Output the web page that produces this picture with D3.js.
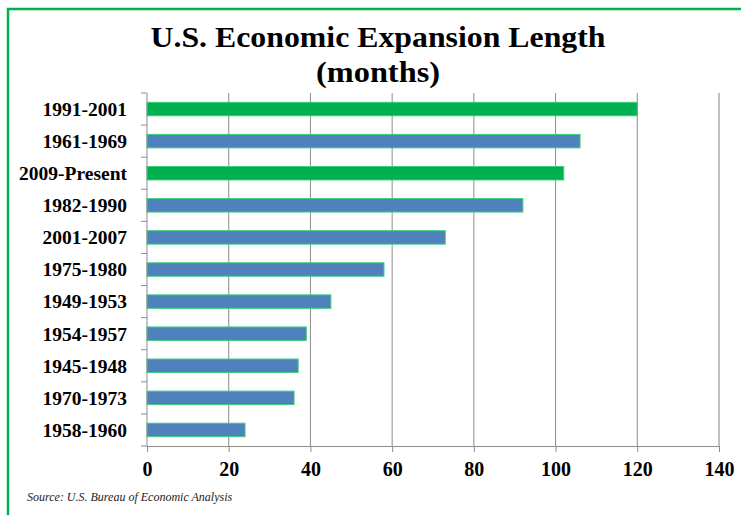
<!DOCTYPE html>
<html>
<head>
<meta charset="utf-8">
<script src="https://cdn.jsdelivr.net/npm/d3@7"></script>
<style>
  body { margin: 0; background: #fff; }
  text { font-family: "Liberation Serif", "DejaVu Serif", serif; }
</style>
</head>
<body>
<svg id="chart" width="741" height="515"></svg>
<script>
// Data (months)
var periods = ["1991-2001", "1961-1969", "2009-Present", "1982-1990", "2001-2007",
               "1975-1980", "1949-1953", "1954-1957", "1945-1948", "1970-1973", "1958-1960"];
var months = [120, 106, 102, 92, 73, 58, 45, 39, 37, 36, 24];
var highlighted = ["1991-2001", "2009-Present"];
var xTicks = [0, 20, 40, 60, 80, 100, 120, 140];

var data = periods.map((p, i) => ({ period: p, months: months[i] }));

const svg = d3.select("#chart");
const margin = { left: 147, right: 22, top: 93, bottom: 69 };
const width = 741 - margin.left - margin.right;
const height = 515 - margin.top - margin.bottom;

// Green frame
svg.append("path")
    .attr("d", "M8,515 L8,9 L741,9")
    .attr("fill", "none")
    .attr("stroke", "#00b050")
    .attr("stroke-width", 2.5);

// Title (stretched a little to match the wider original face)
svg.append("text")
    .attr("x", 378).attr("y", 47)
    .attr("text-anchor", "middle")
    .attr("textLength", 455).attr("lengthAdjust", "spacingAndGlyphs")
    .style("font-size", "30px").style("font-weight", "bold")
    .text("U.S. Economic Expansion Length");
svg.append("text")
    .attr("x", 378).attr("y", 82)
    .attr("text-anchor", "middle")
    .attr("textLength", 124).attr("lengthAdjust", "spacingAndGlyphs")
    .style("font-size", "30px").style("font-weight", "bold")
    .text("(months)");

const g = svg.append("g").attr("transform", `translate(${margin.left},${margin.top})`);

const x = d3.scaleLinear().domain([0, 140]).range([0, width]);
const y = d3.scaleBand().domain(periods).range([0, height]).paddingInner(0.58).paddingOuter(0.29);

// Vertical gridlines
g.selectAll(".grid")
    .data(xTicks.slice(1))
    .join("line")
    .attr("x1", d => x(d)).attr("x2", d => x(d))
    .attr("y1", 0).attr("y2", height)
    .attr("stroke", d => d === 140 ? "#c0c0c0" : "#8c8c8c")
    .attr("stroke-width", d => d === 140 ? 2 : 1);

// Bars
g.selectAll(".bar")
    .data(data)
    .join("rect")
    .attr("x", x(0))
    .attr("y", d => y(d.period))
    .attr("width", d => x(d.months) - x(0))
    .attr("height", y.bandwidth())
    .attr("fill", d => highlighted.includes(d.period) ? "#00b050" : "#4f81bd")
    .attr("stroke", "#3fcf7a")
    .attr("stroke-width", 1);

// Bottom axis
const xAxis = g.append("g")
    .attr("transform", `translate(0,${height})`)
    .call(d3.axisBottom(x).tickValues(xTicks).tickSize(6).tickPadding(10));
xAxis.select(".domain").attr("stroke", "#8c8c8c");
xAxis.selectAll(".tick line").attr("stroke", "#8c8c8c");
xAxis.selectAll(".tick text")
    .style("font-family", "'Liberation Serif', serif")
    .style("font-size", "20px").style("font-weight", "bold")
    .attr("fill", "#000");

// Left axis with ticks at band boundaries
const step = height / periods.length;
g.append("line")
    .attr("x1", 0).attr("x2", 0).attr("y1", 0).attr("y2", height)
    .attr("stroke", "#8c8c8c");
g.selectAll(".ytick")
    .data(d3.range(periods.length + 1))
    .join("line")
    .attr("x1", -6).attr("x2", 0)
    .attr("y1", d => d * step).attr("y2", d => d * step)
    .attr("stroke", "#8c8c8c");
g.selectAll(".ylabel")
    .data(periods)
    .join("text")
    .attr("x", -20)
    .attr("y", d => y(d) + y.bandwidth() / 2)
    .attr("dy", "0.35em")
    .attr("text-anchor", "end")
    .style("font-size", "19.5px").style("font-weight", "bold")
    .text(d => d);

// Source note
svg.append("text")
    .attr("x", 27).attr("y", 501)
    .style("font-size", "12px").style("font-style", "italic")
    .attr("fill", "#222")
    .text("Source: U.S. Bureau of Economic Analysis");
</script>
</body>
</html>
